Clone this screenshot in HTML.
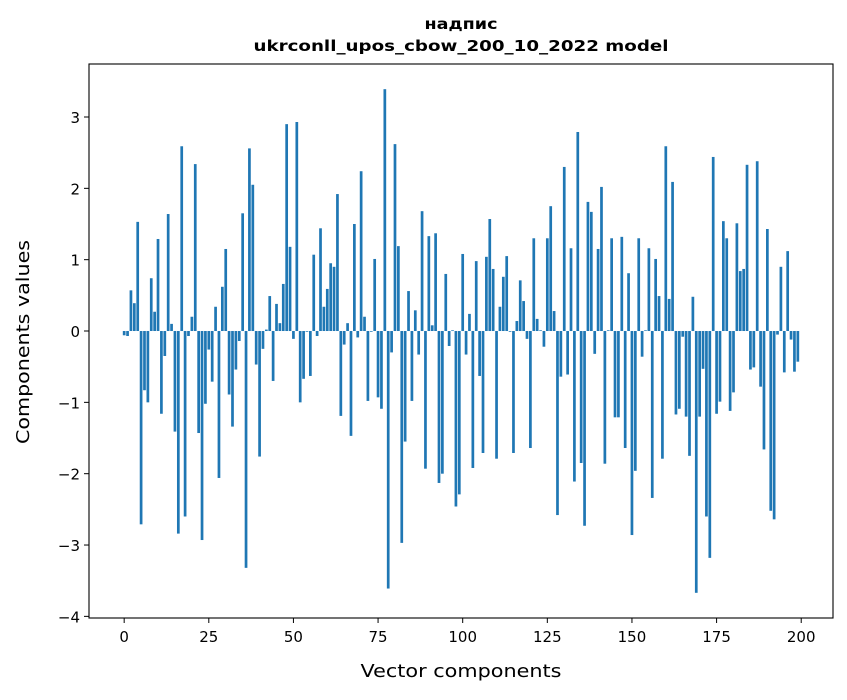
<!DOCTYPE html>
<html><head><meta charset="utf-8"><style>
body{margin:0;background:#fff;font-family:"DejaVu Sans","Liberation Sans",sans-serif}
</style></head><body>
<svg id="chart" width="847" height="696" xmlns="http://www.w3.org/2000/svg" font-family="'DejaVu Sans','Liberation Sans',sans-serif">
<rect width="847" height="696" fill="#fff"/>
<text x="461" y="29" text-anchor="middle" font-size="15" font-weight="bold" textLength="73" lengthAdjust="spacingAndGlyphs">надпис</text>
<text x="461" y="51" text-anchor="middle" font-size="15" font-weight="bold" textLength="415" lengthAdjust="spacingAndGlyphs">ukrconll_upos_cbow_200_10_2022 model</text>
<g id="bars"></g>
<g id="axes"></g>
<text x="461" y="677" text-anchor="middle" font-size="18" textLength="201" lengthAdjust="spacingAndGlyphs">Vector components</text>
<text transform="translate(29,342) rotate(-90)" text-anchor="middle" font-size="18" textLength="204" lengthAdjust="spacingAndGlyphs">Components values</text>
</svg>
<script>
const values = [
-0.06,-0.07,0.57,0.39,1.53,-2.71,-0.83,-1.0,0.74,0.27,
1.29,-1.16,-0.35,1.64,0.1,-1.41,-2.84,2.59,-2.6,-0.07,
0.2,2.34,-1.43,-2.93,-1.02,-0.26,-0.71,0.34,-2.06,0.62,
1.15,-0.89,-1.34,-0.54,-0.14,1.65,-3.32,2.56,2.05,-0.47,
-1.76,-0.25,0.02,0.49,-0.7,0.38,0.11,0.66,2.9,1.18,
-0.11,2.93,-1.0,-0.67,-0.01,-0.63,1.07,-0.07,1.44,0.34,
0.59,0.95,0.9,1.92,-1.19,-0.19,0.11,-1.47,1.5,-0.09,
2.24,0.2,-0.98,-0.01,1.01,-0.93,-1.09,3.39,-3.61,-0.3,
2.62,1.19,-2.97,-1.55,0.56,-0.98,0.29,-0.33,1.68,-1.93,
1.33,0.08,1.37,-2.13,-2.0,0.8,-0.21,0.01,-2.46,-2.29,
1.08,-0.33,0.24,-1.92,0.98,-0.63,-1.71,1.04,1.57,0.87,
-1.79,0.34,0.76,1.05,-0.01,-1.71,0.14,0.71,0.42,-0.11,
-1.64,1.3,0.17,0.01,-0.22,1.3,1.75,0.28,-2.58,-0.64,
2.3,-0.61,1.16,-2.11,2.79,-1.85,-2.73,1.81,1.67,-0.32,
1.15,2.02,-1.86,0.01,1.3,-1.21,-1.21,1.32,-1.64,0.81,
-2.86,-1.96,1.3,-0.36,0.01,1.16,-2.34,1.01,0.49,-1.79,
2.59,0.45,2.09,-1.17,-1.09,-0.08,-1.2,-1.75,0.48,-3.67,
-1.2,-0.53,-2.6,-3.18,2.44,-1.16,-0.99,1.54,1.3,-1.12,
-0.86,1.51,0.84,0.87,2.33,-0.54,-0.51,2.38,-0.78,-1.66,
1.43,-2.52,-2.64,-0.05,0.9,-0.58,1.12,-0.12,-0.57,-0.43
];
const yTicks = [-4,-3,-2,-1,0,1,2,3];
const xTicks = [0,25,50,75,100,125,150,175,200];
const NS="http://www.w3.org/2000/svg";
const L=89,R=833,T=64,B=618;
const n=values.length;
const xmin=-0.4-0.05*(n-0.2), xmax=(n-1+0.4)+0.05*(n-0.2);
const vmin=Math.min(...values), vmax=Math.max(...values);
const ymin=vmin-0.05*(vmax-vmin), ymax=vmax+0.05*(vmax-vmin);
function sx(v){return L+(v-xmin)/(xmax-xmin)*(R-L);}
function sy(v){return B-(v-ymin)/(ymax-ymin)*(B-T);}
const bars=document.getElementById('bars');
values.forEach((v,i)=>{
  const r=document.createElementNS(NS,'rect');
  const x0=sx(i-0.4), x1=sx(i+0.4);
  const y0=sy(Math.max(v,0)), y1=sy(Math.min(v,0));
  r.setAttribute('x',x0);r.setAttribute('width',x1-x0);
  r.setAttribute('y',y0);r.setAttribute('height',Math.max(y1-y0,0.3));
  r.setAttribute('fill','#1f77b4');
  
  
  bars.appendChild(r);
});
const ax=document.getElementById('axes');
const frame=document.createElementNS(NS,'rect');
frame.setAttribute('x',L);frame.setAttribute('y',T);frame.setAttribute('width',R-L);frame.setAttribute('height',B-T);
frame.setAttribute('fill','none');frame.setAttribute('stroke','#000');frame.setAttribute('stroke-width','1.1');


ax.appendChild(frame);
yTicks.forEach(t=>{
  const y=sy(t);
  const l=document.createElementNS(NS,'line');
  l.setAttribute('x1',L-5);l.setAttribute('x2',L);l.setAttribute('y1',y);l.setAttribute('y2',y);l.setAttribute('stroke','#000');
  
  
  ax.appendChild(l);
  const tx=document.createElementNS(NS,'text');
  tx.setAttribute('x',L-9);tx.setAttribute('y',y+6);tx.setAttribute('text-anchor','end');tx.setAttribute('font-size','15');
  tx.textContent=(t<0?'\u2212'+(-t):String(t));
  
  
  ax.appendChild(tx);
});
xTicks.forEach(t=>{
  const x=sx(t);
  const l=document.createElementNS(NS,'line');
  l.setAttribute('x1',x);l.setAttribute('x2',x);l.setAttribute('y1',B);l.setAttribute('y2',B+5);l.setAttribute('stroke','#000');
  
  
  ax.appendChild(l);
  const tx=document.createElementNS(NS,'text');
  tx.setAttribute('x',x);tx.setAttribute('y',B+24);tx.setAttribute('text-anchor','middle');tx.setAttribute('font-size','15');
  tx.textContent=String(t);
  
  
  ax.appendChild(tx);
});
</script>
</body></html>
